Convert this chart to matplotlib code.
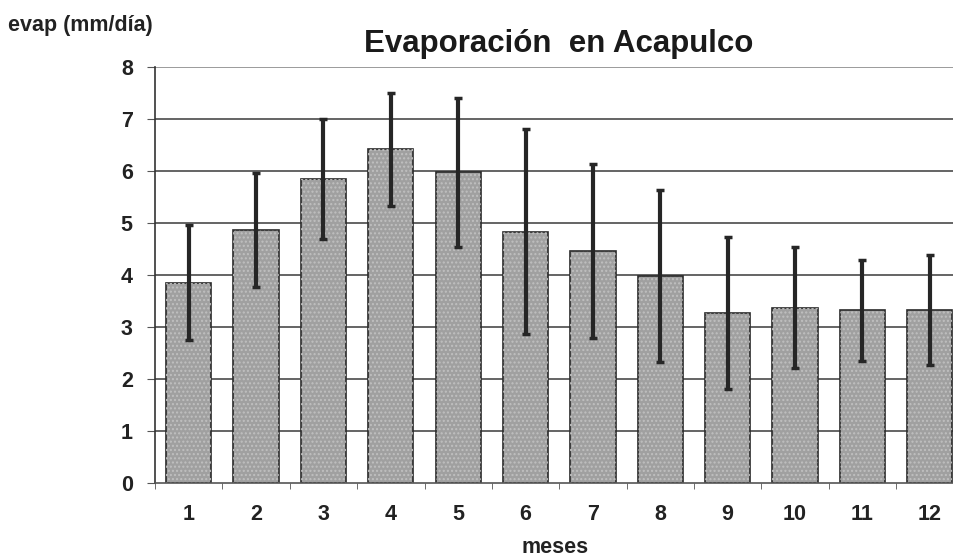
import numpy as np
import matplotlib
matplotlib.use("Agg")
import matplotlib.pyplot as plt

########################################

# Data (mean evaporation and error bar half-width)

months = [1, 2, 3, 4, 5, 6, 7, 8, 9, 10, 11, 12]
evap = [3.86, 4.87, 5.85, 6.42, 5.98, 4.84, 4.47, 3.99, 3.27, 3.38, 3.33, 3.33]
err = [1.11, 1.09, 1.15, 1.09, 1.43, 1.97, 1.68, 1.65, 1.46, 1.17, 0.97, 1.06]
yticks = [0, 1, 2, 3, 4, 5, 6, 7, 8]

########################################

plt.rcParams["font.family"] = ["Liberation Sans", "DejaVu Sans"]

W, H = 954, 560
fig = plt.figure(figsize = (W / 100, H / 100), dpi = 100)

# the plot area runs a little past the right edge of the image, as in the scan
ax = fig.add_axes([155 / W, (H - 483.3) / H, 808.5 / W, 416 / H])

x = np.array(months)
ax.bar(x, evap, width = 0.67, color = "#a0a0a0", edgecolor = "#2a2a2a", linewidth = 1.2, zorder = 2)
# light dotted texture over the grey fill
ax.bar(x, evap, width = 0.67, color = "none", edgecolor = "#c0c0c0", linewidth = 0, hatch = "....", zorder = 2.1)
ax.errorbar(x, evap, yerr = err, fmt = "none", ecolor = "#262626", elinewidth = 3, capsize = 3, capthick = 2.5, zorder = 3)

ax.set_xlim(0.5, 12.5)
ax.set_ylim(0, 8)
ax.set_yticks(yticks)
ax.set_xticks(x)
ax.set_xticks(np.arange(0.5, 13, 1), minor = True)
ax.tick_params(axis = "x", which = "major", length = 0, pad = 15, labelsize = 15.5)
ax.tick_params(axis = "x", which = "minor", length = 4, color = "#555555", direction = "out")
ax.tick_params(axis = "y", length = 6, color = "#555555", pad = 10, labelsize = 15.5)
for lab in ax.get_xticklabels() + ax.get_yticklabels():
    lab.set_fontweight("bold")
    lab.set_color("#222222")

for v in yticks[1:]:
    ax.axhline(v, color = "#8a8a8a" if v == 8 else "#4a4a4a", linewidth = 1.2, zorder = 1)

for side in ["top", "right"]:
    ax.spines[side].set_visible(False)
ax.spines["left"].set_color("#333333")
ax.spines["left"].set_linewidth(1.2)
ax.spines["bottom"].set_color("#555555")
ax.spines["bottom"].set_linewidth(1.2)

fig.text(555 / W, 1 - 553 / H, "meses", fontsize = 15.5, fontweight = "bold", color = "#222222", ha = "center", va = "baseline")
fig.text(559 / W, 1 - 52 / H, "Evaporación  en Acapulco", fontsize = 22.5, fontweight = "bold", color = "#1a1a1a", ha = "center", va = "baseline")
fig.text(8 / W, 1 - 31 / H, "evap (mm/día)", fontsize = 15.5, fontweight = "bold", color = "#222222", ha = "left", va = "baseline")

plt.savefig("out.png", dpi = 100)
plt.close()
